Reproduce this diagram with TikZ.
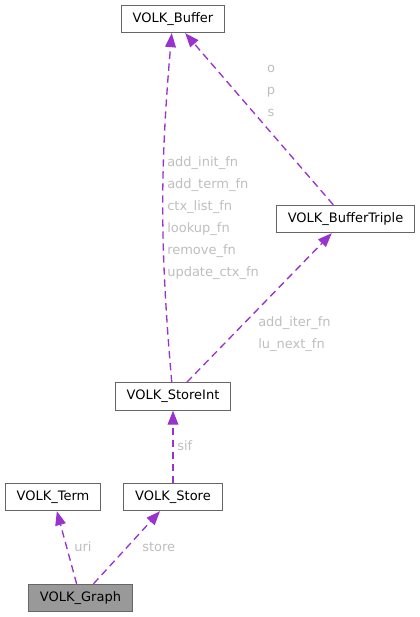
\documentclass[tikz,border=0pt]{standalone}
\usepackage{fontspec}
\setmainfont{DejaVu Sans}
\usetikzlibrary{arrows.meta}

\definecolor{edgepurple}{HTML}{9A32CD}
\definecolor{boxgray}{HTML}{666666}
\definecolor{lblgray}{HTML}{BEBEBE}
\definecolor{cur}{HTML}{999999}

\begin{document}
\begin{tikzpicture}[
 x=0.75pt,
 y=-0.75pt,
 cls/.style={
  draw=boxgray,
  fill=white,
  line width=0.75pt,
  minimum height=20.5pt,
  inner xsep=8.5pt,
  font=\fontsize{9.75}{11.7}\selectfont
 },
 dep/.style={
  draw=edgepurple,
  line width=1pt,
  dash pattern=on 5.5pt off 3.5pt,
  -{Triangle[length=10.5pt,width=8pt,fill=edgepurple]}
 },
 lbl/.style={
  text=lblgray,
  inner sep=0pt,
  anchor=west,
  align=left,
  font=\fontsize{9.75}{16.5}\selectfont
 }
]
 \useasboundingbox (0,0) rectangle (420,617);

 % classes
 \node[cls] (buffer)   at (173,19)    {VOLK\_Buffer};
 \node[cls] (triple)   at (345.5,219) {VOLK\_BufferTriple};
 \node[cls] (storeint) at (173,396.5) {VOLK\_StoreInt};
 \node[cls] (term)     at (53,497)    {VOLK\_Term};
 \node[cls] (store)    at (173,497)   {VOLK\_Store};
 \node[cls,fill=cur] (graph) at (80.5,598) {VOLK\_Graph};

 % usage edges
 \draw[dep] (graph) -- (term);
 \draw[dep] (graph) -- (store);
 \draw[dep] (store) -- (storeint);
 \draw[dep] (storeint) to[bend left=5] (buffer);
 \draw[dep] (storeint) -- (triple);
 \draw[dep] (triple) -- (buffer);

 % member names
 \node[lbl] (l-uri)   at (74,547)  {uri};
 \node[lbl] (l-store) at (142,547) {store};
 \node[lbl] (l-sif)   at (177,446) {sif};
 \node[lbl] (l-fns)   at (167,218)
  {add\_init\_fn\\add\_term\_fn\\ctx\_list\_fn\\lookup\_fn\\remove\_fn\\update\_ctx\_fn};
 \node[lbl] (l-iter)  at (258,334) {add\_iter\_fn\\lu\_next\_fn};
 \node[lbl,anchor=center,align=center] (l-ops) at (271,91) {o\\p\\s};
\end{tikzpicture}
\end{document}
